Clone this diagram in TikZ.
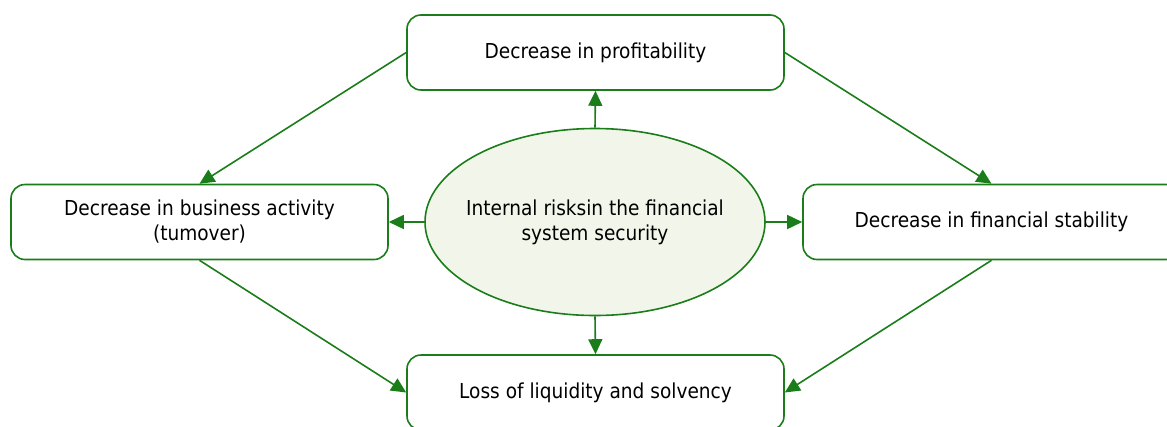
\documentclass[tikz,border=0pt]{standalone}
\usepackage{fontspec}
\setmainfont{DejaVu Sans}[FakeStretch=0.9]
\usetikzlibrary{arrows.meta,shapes.geometric}
\definecolor{riskgreen}{RGB}{26,125,26}
\definecolor{riskfill}{RGB}{242,246,234}
\begin{document}
\begin{tikzpicture}[x=1pt,y=-1pt,
        effect/.style={draw=riskgreen,line width=1.6pt,rounded corners=14pt,fill=white,
            minimum width=377pt,minimum height=75pt,align=center,
            font=\fontsize{20.6}{25}\selectfont},
        source/.style={ellipse,draw=riskgreen,line width=1.6pt,fill=riskfill,
            minimum width=340pt,minimum height=187pt,inner xsep=-12pt,inner ysep=0pt,align=center,
            font=\fontsize{20.6}{25}\selectfont},
        link/.style={draw=riskgreen,line width=1.6pt,-{Triangle[length=15pt,width=14pt]}}]
            \useasboundingbox (0,0) rectangle (1167,426);
            \node[source] (risks) at (595,222) {Internal risksin the financial\\system security};
            \node[effect] (profit) at (595.5,52.5) {Decrease in profitability};
            \node[effect] (activity) at (199.5,222) {Decrease in business activity\\(tumover)};
            \node[effect] (stability) at (991.5,222) {Decrease in financial stability};
            \node[effect] (liquidity) at (595.5,392.5) {Loss of liquidity and solvency};
            % from the centre outwards
            \draw[link] (risks.north) -- (profit.south);
            \draw[link] (risks.west) -- (activity.east);
            \draw[link] (risks.east) -- (stability.west);
            \draw[link] (risks.south) -- (liquidity.north);
            % round the outside
            \draw[link] (profit.west) -- (activity.north);
            \draw[link] (profit.east) -- (stability.north);
            \draw[link] (activity.south) -- (liquidity.west);
            \draw[link] (stability.south) -- (liquidity.east);
        \end{tikzpicture}
\end{document}
